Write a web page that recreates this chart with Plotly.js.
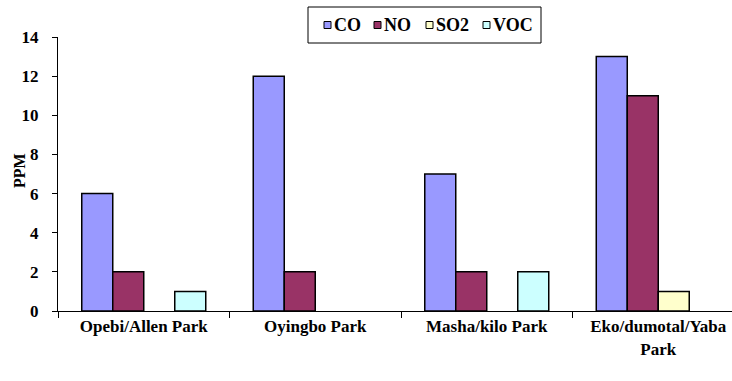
<!DOCTYPE html>
<html>
<head>
<meta charset="utf-8">
<script src="https://cdn.plot.ly/plotly-3.0.1.min.js"></script>
<style>
html,body{margin:0;padding:0;background:#fff;}
#chart{width:732px;height:381px;}
svg text{font-family:"Liberation Serif", serif !important;font-weight:bold !important;}
</style>
</head>
<body>
<div id="chart"></div>
<script>
const categories = ["Opebi/Allen Park", "Oyingbo Park", "Masha/kilo Park", "Eko/dumotal/Yaba<br>Park"];
const seriesNames = ["CO", "NO", "SO2", "VOC"];
const coValues = [6, 12, 7, 13];
const noValues = [2, 2, 2, 11];
const so2Values = [0, 0, 0, 1];
const vocValues = [1, 0, 2, 0];
const yTicks = [0, 2, 4, 6, 8, 10, 12, 14];
const yTitle = "PPM";

const colors = ["#9999FF", "#993366", "#FFFFCC", "#CCFFFF"];
const values = [coValues, noValues, so2Values, vocValues];
function f(size) { return {family: "Liberation Serif", size: size, weight: "bold", color: "#000000"}; }

// plot-area geometry in page pixels (for placing the legend box and axis title)
const M = {l: 58, r: 0, t: 37, b: 70}, W = 732, H = 381;
const pw = W - M.l - M.r, ph = H - M.t - M.b;
const px = x => (x - M.l) / pw;
const py = y => (H - M.b - y) / ph;

const traces = seriesNames.map((name, i) => ({
  type: "bar",
  name: name,
  x: categories,
  // zero readings are drawn as empty (no outline at the baseline), as in the reference
  y: values[i].map(v => v === 0 ? null : v),
  marker: {color: colors[i], line: {color: "#000", width: 1.5}},
  hoverinfo: "skip",
  showlegend: false
}));

// legend: boxed row of small squares + labels
const legSymX = [324, 374, 426, 483];
const legY = 25;
const shapes = [{type: "rect", xref: "paper", yref: "paper", x0: px(308), x1: px(541), y0: py(43), y1: py(7),
  line: {color: "#000", width: 1}, fillcolor: "#fff", layer: "above"}];
const annotations = [];
seriesNames.forEach((name, i) => {
  shapes.push({type: "rect", xref: "paper", yref: "paper", x0: px(legSymX[i]), x1: px(legSymX[i] + 7),
    y0: py(legY + 3.5), y1: py(legY - 3.5), line: {color: "#000", width: 1}, fillcolor: colors[i], layer: "above"});
  annotations.push({xref: "paper", yref: "paper", x: px(legSymX[i] + 8), y: py(legY), xanchor: "left", yanchor: "middle",
    text: name, showarrow: false, font: f(18)});
});
// y-axis title
annotations.push({xref: "paper", yref: "paper", x: px(19), y: py(171), xanchor: "center", yanchor: "middle",
  textangle: -90, text: yTitle, showarrow: false, font: f(16)});

const layout = {
  width: W, height: H,
  margin: M,
  paper_bgcolor: "#fff", plot_bgcolor: "#fff",
  barmode: "group",
  bargap: 0.277,
  bargroupgap: 0,
  font: f(16),
  showlegend: false,
  shapes: shapes,
  annotations: annotations,
  xaxis: {
    type: "category",
    range: [-0.5, 3.43],
    showline: true, linecolor: "#000", linewidth: 1,
    ticks: "outside", tickson: "boundaries", ticklen: 6, tickcolor: "#000",
    showgrid: false, zeroline: false,
    tickfont: f(17),
    ticklabelstandoff: 0,
    fixedrange: true
  },
  yaxis: {
    range: [0, 14],
    tickvals: yTicks,
    ticktext: yTicks.map(String),
    showline: true, linecolor: "#000", linewidth: 1,
    ticks: "outside", ticklen: 5, tickcolor: "#000",
    showgrid: false, zeroline: false,
    tickfont: f(17),
    ticklabelstandoff: 10,
    fixedrange: true
  }
};

Plotly.newPlot("chart", traces, layout, {displayModeBar: false, staticPlot: true});
</script>
</body>
</html>
